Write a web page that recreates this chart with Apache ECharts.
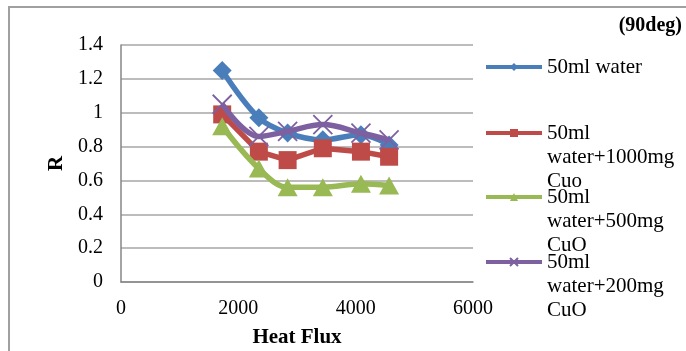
<!DOCTYPE html>
<html>
<head>
<meta charset="utf-8">
<script src="https://cdn.jsdelivr.net/npm/echarts@6/dist/echarts.min.js"></script>
<style>
  html, body { margin: 0; padding: 0; background: #fff; }
  #chart { width: 686px; height: 351px; }
</style>
</head>
<body>
<div id="chart"></div>
<script>
// Heat flux (x) values shared by all runs
const heatFlux = [1725, 2350, 2840, 3440, 4090, 4570];

// R values per fluid
const water = [1.25, 0.97, 0.88, 0.84, 0.87, 0.81];
const cuo1000 = [0.99, 0.77, 0.72, 0.79, 0.77, 0.74];
const cuo500 = [0.92, 0.67, 0.56, 0.56, 0.58, 0.57];
const cuo200 = [1.05, 0.86, 0.89, 0.93, 0.88, 0.84];

const seriesNames = [
  '50ml water',
  '50ml\nwater+1000mg\nCuo',
  '50ml\nwater+500mg\nCuO',
  '50ml\nwater+200mg\nCuO'
];

const xTicks = { min: 0, max: 6000, interval: 2000 };
const yTicks = { min: 0, max: 1.4, interval: 0.2 };

const colors = ['#4A7EBB', '#BE4B48', '#98B954', '#7D60A0'];
const serif = '"Liberation Serif", "Times New Roman", serif';

function pairs(ys) {
  return heatFlux.map((x, i) => [x, ys[i]]);
}

const seriesDefs = [
  { data: water, symbol: 'diamond', size: 19, smooth: 0.35 },
  { data: cuo1000, symbol: 'rect', size: 18, smooth: false },
  { data: cuo500, symbol: 'triangle', size: [20, 18], smooth: 0.35 },
  { data: cuo200, symbol: 'path://M0,0L2,2M2,0L0,2', size: 19, smooth: 0.35 }
];

const series = seriesDefs.map((d, i) => ({
  name: seriesNames[i],
  type: 'line',
  data: pairs(d.data),
  smooth: d.smooth,
  symbol: d.symbol,
  symbolSize: d.size,
  lineStyle: { width: 5.5, color: colors[i] },
  itemStyle: i === 3
    ? { color: 'none', borderColor: colors[i], borderWidth: 1.8 }
    : { color: colors[i] },
  emphasis: { disabled: true },
  animation: false,
  z: [2, 3, 4, 5][i]
}));

// One legend block per series so each entry sits at its own height.
// Leading blank lines keep the first text line level with the swatch.
const legendRows = [67, 133, 197, 262];
const legends = seriesNames.map((name, i) => {
  const lines = name.split('\n').length;
  const pad = lines - 1;
  const blockHeight = (lines + pad) * 24;
  return {
    data: [{ name: name }],
    orient: 'vertical',
    left: 484,
    top: legendRows[i] - blockHeight / 2,
    padding: 0,
    itemWidth: 56,
    itemHeight: 10,
    itemGap: 0,
    selectedMode: false,
    formatter: n => '\n'.repeat(pad) + n,
    lineStyle: { width: 4 },
    textStyle: {
      fontFamily: serif,
      fontSize: 21,
      color: '#000',
      lineHeight: 24
    }
  };
});

const chart = echarts.init(document.getElementById('chart'), null, { renderer: 'canvas' });
chart.setOption({
  backgroundColor: '#fff',
  color: colors,
  animation: false,
  grid: { left: 121, right: 213, top: 45, bottom: 69, containLabel: false, outerBoundsMode: 'none' },
  xAxis: {
    type: 'value',
    min: xTicks.min,
    max: xTicks.max,
    interval: xTicks.interval,
    name: 'Heat Flux',
    nameLocation: 'middle',
    nameGap: 45,
    nameTextStyle: { fontFamily: serif, fontSize: 21, fontWeight: 'bold', color: '#000' },
    axisLine: { show: true, lineStyle: { color: '#868686', width: 1.5 } },
    axisTick: { show: false },
    splitLine: { show: false },
    axisLabel: { fontFamily: serif, fontSize: 20, color: '#000', margin: 17,
      formatter: v => String(v) }
  },
  yAxis: {
    type: 'value',
    min: yTicks.min,
    max: yTicks.max,
    interval: yTicks.interval,
    name: 'R',
    nameLocation: 'middle',
    nameRotate: 90,
    nameGap: 53,
    nameTextStyle: { fontFamily: serif, fontSize: 21, fontWeight: 'bold', color: '#000' },
    axisLine: { show: true, lineStyle: { color: '#868686', width: 1.5 } },
    axisTick: { show: false },
    splitLine: { show: true, lineStyle: { color: '#A6A6A6', width: 1.5 } },
    axisLabel: { fontFamily: serif, fontSize: 20, color: '#000', margin: 18,
      formatter: v => String(Math.round(v * 10) / 10) }
  },
  legend: legends,
  series: series,
  graphic: [
    {
      type: 'polyline',
      shape: { points: [[9, 351], [9, 7], [686, 7]] },
      style: { stroke: '#A0A0A0', lineWidth: 2, fill: 'none' },
      silent: true
    },
    {
      type: 'text',
      right: 4,
      top: 16,
      style: { text: '(90deg)', font: 'bold 20px ' + serif, fill: '#000' },
      silent: true
    }
  ]
});
</script>
</body>
</html>
